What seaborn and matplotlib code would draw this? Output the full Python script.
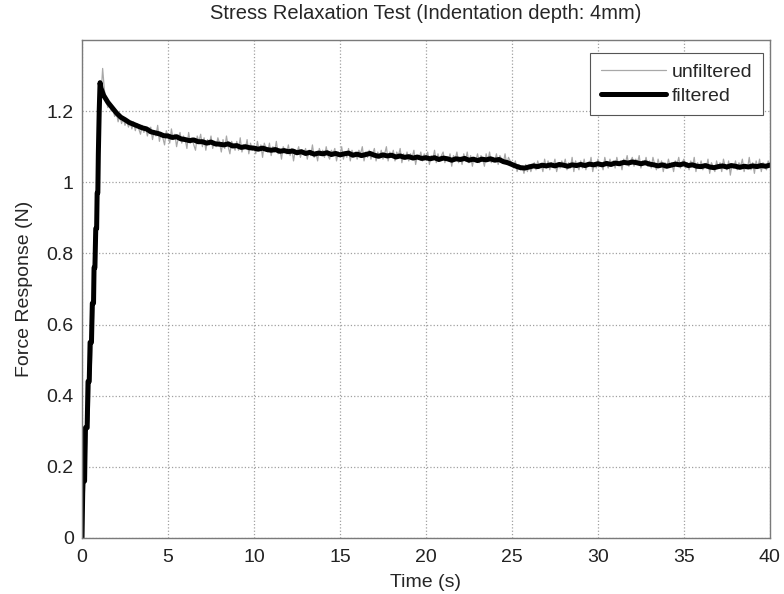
import numpy as np
import pandas as pd
import matplotlib
matplotlib.use("Agg")
import matplotlib.pyplot as plt
import seaborn as sns

# ---- data ----
rise_time = [0.0, 0.05, 0.15, 0.2, 0.3, 0.35, 0.42, 0.47, 0.55, 0.6, 0.67, 0.7, 0.75,
             0.8, 0.85, 0.88, 0.92, 0.95, 1.0, 1.05, 1.1]
rise_force = [0.0, 0.16, 0.16, 0.31, 0.31, 0.44, 0.44, 0.55, 0.55, 0.66, 0.66, 0.76, 0.76,
              0.87, 0.87, 0.97, 0.97, 1.08, 1.2, 1.28, 1.265]
decay_force = [
    1.245, 1.225, 1.21, 1.195, 1.183, 1.176, 1.168, 1.163,
    1.158, 1.153, 1.15, 1.142, 1.139, 1.136, 1.131, 1.130,
    1.126, 1.128, 1.122, 1.12, 1.117, 1.119, 1.114, 1.114,
    1.11, 1.113, 1.108, 1.107, 1.105, 1.108, 1.102, 1.103,
    1.098, 1.1, 1.097, 1.096, 1.093, 1.096, 1.092, 1.09,
    1.092, 1.087, 1.089, 1.086, 1.088, 1.083, 1.086, 1.081,
    1.084, 1.079, 1.082, 1.08, 1.083, 1.078, 1.081, 1.077,
    1.08, 1.082, 1.076, 1.079, 1.075, 1.078, 1.081, 1.076,
    1.073, 1.077, 1.074, 1.076, 1.071, 1.074, 1.07, 1.072,
    1.068, 1.071, 1.067, 1.069, 1.066, 1.069, 1.064, 1.068,
    1.066, 1.062, 1.066, 1.064, 1.067, 1.062, 1.065, 1.061,
    1.065, 1.063, 1.066, 1.062, 1.064, 1.058, 1.055, 1.05,
    1.045, 1.041, 1.04, 1.043, 1.046, 1.044, 1.048, 1.046,
    1.049, 1.046, 1.05, 1.048, 1.045, 1.049, 1.047, 1.05,
    1.047, 1.051, 1.049, 1.052, 1.049, 1.053, 1.05, 1.054,
    1.052, 1.056, 1.054, 1.057, 1.055, 1.052, 1.055, 1.051,
    1.049, 1.046, 1.049, 1.045, 1.048, 1.051, 1.049, 1.052,
    1.047, 1.049, 1.045, 1.044, 1.047, 1.043, 1.041, 1.044,
    1.046, 1.043, 1.047, 1.045, 1.042, 1.045, 1.043, 1.046,
    1.044, 1.047, 1.045, 1.048,
]
decay_time = [round(1.25 + 0.25 * i, 2) for i in range(len(decay_force))]
filtered_time = rise_time + decay_time
filtered_force = rise_force + decay_force

unfiltered_force = [
    0.00, 0.10, 0.17, 0.30, 0.33, 0.45, 0.53, 0.66, 0.78, 0.92,
    1.08, 1.24, 1.32, 1.26, 1.23, 1.21, 1.225, 1.20, 1.205, 1.185,
    1.195, 1.17, 1.19, 1.165, 1.18, 1.16, 1.175, 1.155, 1.17, 1.15,
    1.17, 1.145, 1.165, 1.15, 1.135, 1.16, 1.14, 1.155, 1.13, 1.15,
    1.155, 1.12, 1.145, 1.13, 1.16, 1.115, 1.14, 1.125, 1.105, 1.145,
    1.13, 1.11, 1.15, 1.12, 1.135, 1.10, 1.125, 1.14, 1.11, 1.13,
    1.12, 1.095, 1.14, 1.11, 1.125, 1.105, 1.09, 1.13, 1.115, 1.135,
    1.10, 1.125, 1.09, 1.12, 1.105, 1.13, 1.095, 1.115, 1.10, 1.125,
    1.11, 1.085, 1.12, 1.095, 1.13, 1.10, 1.08, 1.115, 1.105, 1.09,
    1.115, 1.09, 1.125, 1.085, 1.105, 1.095, 1.12, 1.08, 1.11, 1.09,
    1.10, 1.08, 1.115, 1.09, 1.105, 1.07, 1.11, 1.095, 1.085, 1.11,
    1.075, 1.10, 1.085, 1.115, 1.08, 1.095, 1.065, 1.10, 1.09, 1.08,
    1.105, 1.075, 1.095, 1.06, 1.09, 1.085, 1.10, 1.07, 1.09, 1.08,
    1.095, 1.065, 1.09, 1.075, 1.105, 1.07, 1.085, 1.06, 1.095, 1.08,
    1.09, 1.07, 1.10, 1.075, 1.065, 1.09, 1.08, 1.095, 1.06, 1.085,
    1.075, 1.10, 1.065, 1.085, 1.07, 1.095, 1.06, 1.09, 1.075, 1.085,
    1.065, 1.09, 1.08, 1.10, 1.06, 1.085, 1.07, 1.09, 1.065, 1.08,
    1.095, 1.06, 1.085, 1.07, 1.09, 1.065, 1.08, 1.10, 1.06, 1.085,
    1.07, 1.09, 1.06, 1.085, 1.075, 1.095, 1.055, 1.08, 1.065, 1.085,
    1.06, 1.08, 1.07, 1.09, 1.05, 1.075, 1.065, 1.085, 1.06, 1.08,
    1.07, 1.085, 1.05, 1.075, 1.065, 1.09, 1.055, 1.08, 1.06, 1.075,
    1.085, 1.055, 1.07, 1.06, 1.08, 1.045, 1.075, 1.065, 1.085, 1.055,
    1.07, 1.05, 1.08, 1.06, 1.085, 1.055, 1.075, 1.045, 1.07, 1.06,
    1.08, 1.055, 1.075, 1.065, 1.045, 1.08, 1.06, 1.085, 1.055, 1.07,
    1.06, 1.08, 1.05, 1.075, 1.065, 1.055, 1.08, 1.05, 1.07, 1.06,
    1.055, 1.04, 1.06, 1.03, 1.05, 1.035, 1.045, 1.025, 1.05, 1.03,
    1.05, 1.03, 1.045, 1.055, 1.035, 1.06, 1.04, 1.05, 1.03, 1.065,
    1.04, 1.06, 1.035, 1.055, 1.045, 1.065, 1.03, 1.05, 1.04, 1.06,
    1.045, 1.065, 1.035, 1.055, 1.04, 1.07, 1.03, 1.06, 1.045, 1.035,
    1.06, 1.04, 1.065, 1.035, 1.055, 1.045, 1.07, 1.03, 1.055, 1.04,
    1.065, 1.045, 1.055, 1.035, 1.07, 1.05, 1.04, 1.065, 1.045, 1.06,
    1.04, 1.07, 1.05, 1.06, 1.035, 1.065, 1.055, 1.075, 1.045, 1.06,
    1.07, 1.045, 1.065, 1.055, 1.075, 1.04, 1.06, 1.05, 1.07, 1.045,
    1.06, 1.04, 1.07, 1.05, 1.035, 1.065, 1.045, 1.06, 1.03, 1.055,
    1.04, 1.065, 1.045, 1.055, 1.03, 1.06, 1.05, 1.07, 1.04, 1.055,
    1.065, 1.04, 1.055, 1.035, 1.06, 1.045, 1.07, 1.03, 1.055, 1.04,
    1.06, 1.035, 1.05, 1.04, 1.065, 1.025, 1.055, 1.045, 1.03, 1.06,
    1.04, 1.055, 1.03, 1.065, 1.045, 1.035, 1.06, 1.02, 1.05, 1.04,
    1.06, 1.035, 1.055, 1.045, 1.065, 1.03, 1.05, 1.04, 1.07, 1.035,
    1.055, 1.025, 1.06, 1.04, 1.065, 1.03, 1.055, 1.045, 1.035, 1.06,
    1.05,
]
unfiltered_time = [round(0.1 * i, 1) for i in range(len(unfiltered_force))]

x_ticks = [0, 5, 10, 15, 20, 25, 30, 35, 40]
y_ticks = [0, 0.2, 0.4, 0.6, 0.8, 1.0, 1.2]
y_tick_labels = ["0", "0.2", "0.4", "0.6", "0.8", "1", "1.2"]

# ---- plot ----
sns.set_style("white")
plt.rcParams["font.family"] = ["Liberation Sans", "DejaVu Sans"]

fig = plt.figure(figsize=(7.84, 5.94), dpi=100)
ax = fig.add_axes([0.1046, 0.0943, 0.8774, 0.8384])

df_u = pd.DataFrame({"t": unfiltered_time, "f": unfiltered_force})
df_f = pd.DataFrame({"t": filtered_time, "f": filtered_force})

sns.lineplot(data=df_u, x="t", y="f", ax=ax, color="#a8a8a8", linewidth=0.9,
             estimator=None, sort=False, label="unfiltered")
sns.lineplot(data=df_f, x="t", y="f", ax=ax, color="black", linewidth=3.6,
             estimator=None, sort=False, label="filtered")

ax.set_xlim(0, 40)
ax.set_ylim(0, 1.4)
ax.set_xticks(x_ticks)
ax.set_yticks(y_ticks)
ax.set_yticklabels(y_tick_labels)
ax.grid(True, linestyle=":", color="#a0a0a0", linewidth=0.9)
ax.tick_params(direction="in", labelsize=14, colors="#222222", length=4)
ax.tick_params(axis="x", pad=8)
ax.tick_params(axis="y", pad=6)
for s in ax.spines.values():
    s.set_color("#7a7a7a")
    s.set_linewidth(1.0)

ax.set_xlabel("Time (s)", fontsize=14, labelpad=6)
ax.set_ylabel("Force Response (N)", fontsize=14, labelpad=10)
ax.set_title("Stress Relaxation Test (Indentation depth: 4mm)", fontsize=14.5, pad=15)

leg = ax.legend(loc="upper right", bbox_to_anchor=(0.9898, 0.974), fontsize=14,
                fancybox=False, framealpha=1, edgecolor="#555555", borderaxespad=0,
                handlelength=3.35, handletextpad=0.3, borderpad=0.55, labelspacing=0.3)
leg.get_frame().set_linewidth(0.8)

fig.savefig("out.png", dpi=100, facecolor="white")
